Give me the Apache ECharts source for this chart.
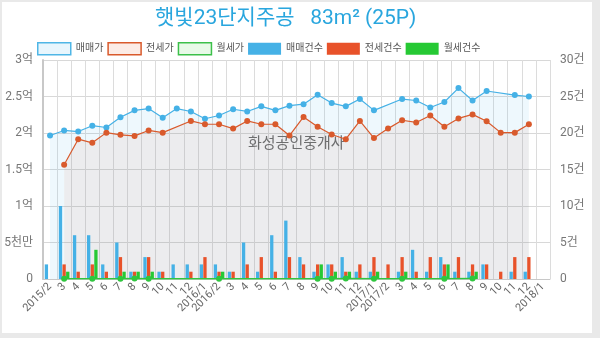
<!DOCTYPE html>
<html><head><meta charset="utf-8">
<script src="https://cdn.jsdelivr.net/npm/echarts@6/dist/echarts.min.js"></script>
<style>
html,body{margin:0;padding:0;background:#e9e9e9;width:600px;height:338px;overflow:hidden;}
#card{position:absolute;left:2px;top:2px;width:590px;height:331px;background:#fff;}
#chart{position:absolute;left:0;top:0;width:600px;height:338px;}
</style></head>
<body><div id="card"></div><div id="chart"></div>
<script>
const categories = ['2015/2','3','4','5','6','7','8','9','10','11','12','2016/1','2016/2','3','4','5','6','7','8','9','10','11','12','2017/1','2017/2','3','4','5','6','7','8','9','10','11','12','2018/1'];
// prices in 만원
const salePrice = [19650,20350,20200,21000,20750,22150,23100,23350,22100,23350,22950,21950,22400,23250,22950,23650,23100,23750,23950,25250,24100,23650,24650,23100,null,24650,24450,23500,24250,26150,24450,25750,null,25200,25000,null];
const jeonsePrice = [null,15650,19150,18650,20050,19750,19600,20350,20050,null,21650,21200,21200,20600,21650,21200,21200,19650,22200,20850,19800,19150,21650,19300,20600,21750,21450,22400,20850,22000,22550,21600,20050,20050,21200,null];
const monthlyPrice = [null,50,null,45,null,50,55,50,null,null,null,null,50,null,null,null,null,null,null,45,50,55,null,50,null,45,null,null,50,null,55,null,null,null,null,null];
// counts (건)
const saleCount = [2,10,6,6,2,5,1,3,1,2,2,2,2,1,5,1,6,8,3,1,2,3,1,1,0,1,4,1,3,1,1,2,0,1,1,0];
const jeonseCount = [0,2,1,2,1,3,1,3,1,0,1,3,1,1,2,3,1,3,2,2,2,1,2,3,2,3,1,3,2,3,2,2,1,3,3,0];
const monthlyCount = [0,1,0,4,0,1,1,1,0,0,0,0,1,0,0,0,0,0,0,2,1,1,0,1,0,1,0,0,2,0,1,0,0,0,0,0];
const leftTicks = {0:'0',5000:'5천만',10000:'1억',15000:'1.5억',20000:'2억',25000:'2.5억',30000:'3억'};

const C_BLUE='#45b1e6', C_ORANGE='#d95a2c', C_GREEN='#2fc63e';
const chart = echarts.init(document.getElementById('chart'), null, {renderer:'canvas'});
const font = 'Roboto, "Noto Sans CJK KR", sans-serif';
chart.setOption({
  backgroundColor:'transparent',
  animation:false,
  title:{text:'햇빛23단지주공   83m² (25P)', left:150, top:3,
    textStyle:{color:'#29a6de', fontSize:21, fontWeight:'normal', fontFamily:font}},
  legend:{left:32, top:37, itemWidth:33, itemHeight:12, itemGap:4, icon:'rect',
    textStyle:{fontSize:10, color:'#555', fontFamily:font},
    data:[
      {name:'매매가', itemStyle:{color:'#e8f6fd', borderColor:'#4fb6e6', borderWidth:1.5}},
      {name:'전세가', itemStyle:{color:'#fcece6', borderColor:'#d95a2c', borderWidth:1.5}},
      {name:'월세가', itemStyle:{color:'#e8fae8', borderColor:'#3cc04a', borderWidth:1.5}},
      {name:'매매건수', itemStyle:{color:'#45b1e6'}},
      {name:'전세건수', itemStyle:{color:'#e8522a'}},
      {name:'월세건수', itemStyle:{color:'#26c934'}}
    ]},
  graphic:[{type:'text', left:248, top:135, z:1, silent:true,
    style:{text:'화성공인중개사', fontSize:15, fill:'#6a6a6a', fontFamily:'"Noto Sans CJK KR", sans-serif'}}],
  grid:{left:43, right:50, top:60, bottom:59},
  xAxis:{type:'category', data:categories, boundaryGap:true,
    axisLine:{show:true, lineStyle:{color:'#c8c8c8'}},
    axisTick:{show:false},
    axisLabel:{interval:0, rotate:45, fontSize:11, color:'#666', margin:6, fontFamily:font},
    splitLine:{show:true, interval:0, lineStyle:{color:'#dcdcdc', width:1}}},
  yAxis:[
    {type:'value', min:0, max:30000, interval:5000, position:'left',
      axisLine:{show:true, lineStyle:{color:'#c8c8c8', width:2}},
      axisTick:{show:false},
      axisLabel:{fontSize:12, color:'#777', margin:10, fontFamily:font, formatter:v=>leftTicks[v]!==undefined?leftTicks[v]:''},
      splitLine:{show:true, lineStyle:{color:'#d8d8d8'}}},
    {type:'value', min:0, max:30, interval:5, position:'right',
      axisLine:{show:false}, axisTick:{show:false},
      axisLabel:{fontSize:12, color:'#777', margin:10, fontFamily:font, formatter:v=>v===0?'0':v+'건'},
      splitLine:{show:false}}
  ],
  series:[
    {name:'매매가', type:'line', data:salePrice, connectNulls:true, yAxisIndex:0,
      symbol:'circle', symbolSize:6, z:2,
      itemStyle:{color:C_BLUE}, lineStyle:{color:C_BLUE, width:1.2},
      areaStyle:{color:'rgba(69,177,230,0.13)'}},
    {name:'전세가', type:'line', data:jeonsePrice, connectNulls:true, yAxisIndex:0,
      symbol:'circle', symbolSize:6, z:3,
      itemStyle:{color:C_ORANGE}, lineStyle:{color:C_ORANGE, width:1.2},
      areaStyle:{color:'rgba(217,90,44,0.1)'}},
    {name:'매매건수', type:'bar', data:saleCount, yAxisIndex:1, barWidth:3.3, barGap:'10%', z:4,
      itemStyle:{color:'#45b1e6'}},
    {name:'전세건수', type:'bar', data:jeonseCount, yAxisIndex:1, barWidth:3.3, barGap:'10%', z:4,
      itemStyle:{color:'#e8522a'}},
    {name:'월세건수', type:'bar', data:monthlyCount, yAxisIndex:1, barWidth:3.3, barGap:'10%', z:4,
      itemStyle:{color:'#26c934'}},
    {name:'월세가', type:'line', data:monthlyPrice, connectNulls:true, yAxisIndex:0,
      symbol:'circle', symbolSize:6, z:5,
      itemStyle:{color:C_GREEN}, lineStyle:{color:C_GREEN, width:1.5},
      areaStyle:{color:'rgba(47,198,62,0.1)'}}
  ]
});
</script></body></html>
